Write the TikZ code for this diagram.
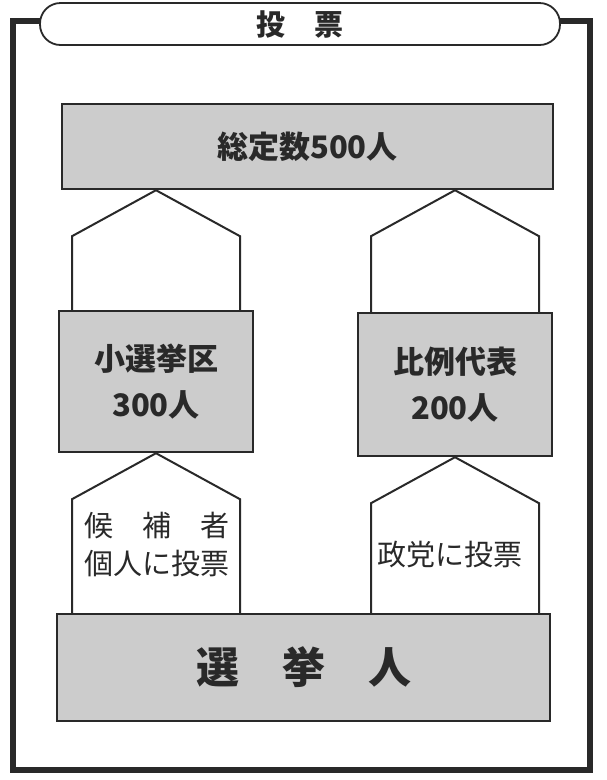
\documentclass[tikz,border=0pt]{standalone}
\usepackage{fontspec}
\setmainfont{Noto Sans CJK JP}
\usetikzlibrary{calc}
\definecolor{boxgray}{gray}{0.8}
\definecolor{ink}{gray}{0.16}
\tikzset{seat/.style={draw=ink, line width=2.4pt, fill=boxgray, text=ink, font=\bfseries\fontsize{31}{46}\selectfont, align=center, inner sep=0pt},
         houseline/.style={line width=2pt, draw=ink, line join=miter},
         vote/.style={text=ink, font=\fontsize{29}{38}\selectfont, align=center, inner sep=0pt},
         title/.style={draw=ink, line width=1.8pt, fill=white, rounded corners=20.5pt, minimum width=520pt, minimum height=42pt, text=ink, font=\bfseries\fontsize{29}{32}\selectfont}}
\def\hw{84}
\def\hd{46}
% #1 column node, #2 node touched by the apex, #3 node the walls stand on
\newcommand{\house}[3]{%
  \draw [houseline] ($(#1.center |- #3.north)+(-\hw,0)$) -- ($(#1.center |- #2.south)+(-\hw,\hd)$)
    -- (#1.center |- #2.south) -- ($(#1.center |- #2.south)+(\hw,\hd)$) -- ($(#1.center |- #3.north)+(\hw,0)$);}

\begin{document}
\begin{tikzpicture}[x=1pt,y=-1pt]
\fill [white] (0,0) rectangle (606,780);
\draw [line width=5.5pt, draw=ink] (13,21) rectangle (590,770);
\node (title) [title] at (300,24) {投　票};

\node (total) [seat, minimum width=491pt, minimum height=85pt] at (307.5,146.5) {総定数500人};
\node (small) [seat, minimum width=194pt, minimum height=141pt] at (156,381.5) {小選挙区\\300人};
\node (prop) [seat, minimum width=194pt, minimum height=143pt] at (455,384.5) {比例代表\\200人};
\node (voters) [seat, minimum width=493pt, minimum height=107pt, font=\bfseries\fontsize{43}{50}\selectfont] at (303.5,667.5) {選　挙　人};

% Draw the houses between the boxes
\house{small}{total}{small}
\house{prop}{total}{prop}
\house{small}{small}{voters}
\house{prop}{prop}{voters}

\node (cand) [vote] at (157,544) {候　補　者\\個人に投票};
\node (party) [vote] at (450,555) {政党に投票};
\end{tikzpicture}
\end{document}
